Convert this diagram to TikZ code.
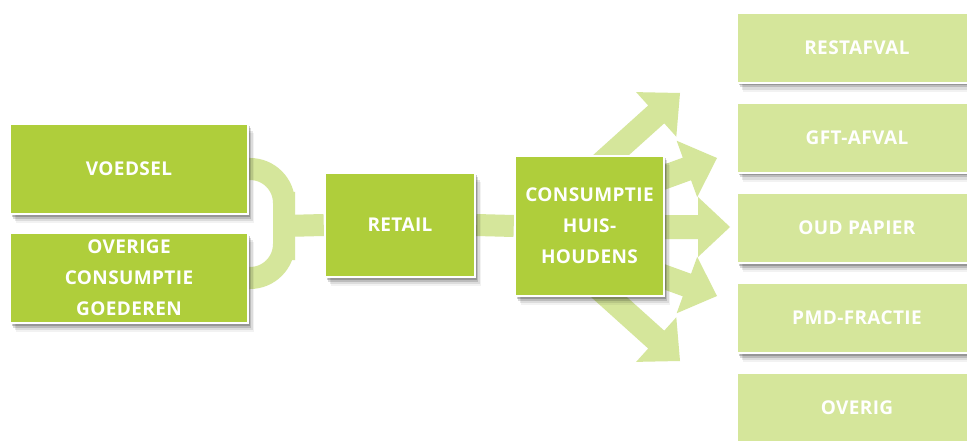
\documentclass[tikz,border=0pt]{standalone}
\usepackage{fontspec}
\setmainfont{Open Sans}
\newfontfamily\boxfont[LetterSpace=2]{Open Sans}
\usetikzlibrary{shadows,calc}
\definecolor{dgreen}{HTML}{AFCE3B}
\definecolor{lgreen}{HTML}{D5E69B}
\pgfdeclarelayer{bg}
\pgfsetlayers{bg,main}
\tikzset{
  sh/.style={drop shadow={shadow xshift=1.5pt,shadow yshift=-2.5pt,opacity=.2,fill=black},
             drop shadow={shadow xshift=3pt,shadow yshift=-4.5pt,opacity=.14,fill=black},
             drop shadow={shadow xshift=4.5pt,shadow yshift=-7pt,opacity=.09,fill=black},
             drop shadow={shadow xshift=6pt,shadow yshift=-9pt,opacity=.05,fill=black}},
  dbox/.style={sh, rectangle, fill=dgreen, draw=white, line width=2.5pt, text=white,
               font=\boxfont\bfseries\fontsize{19}{31}\selectfont, align=center, inner sep=0pt},
  lbox/.style={dbox, fill=lgreen},
  band/.style={draw=lgreen, line width=22pt},
  fatarrow/.style={fill=lgreen},
}
\newcommand{\fatarr}[3]{% tip, angle, length
  \begin{scope}[shift={(#1)}, rotate=#2]
    \fill[fatarrow] (0,0) -- (-32,30) -- (-32,12) -- (-#3,12) -- (-#3,-12) -- (-32,-12) -- (-32,-30) -- cycle;
  \end{scope}}
\begin{document}
\begin{tikzpicture}[x=1pt,y=-1pt]
\useasboundingbox (0,0) rectangle (967,441);

\node[dbox, minimum width=238pt, minimum height=90pt] (voed) at (129,169) {VOEDSEL};
\node[dbox, minimum width=238pt, minimum height=90pt] (over) at (129,278) {OVERIGE\\CONSUMPTIE\\GOEDEREN};
\node[dbox, minimum width=150pt, minimum height=104pt] (ret) at (400,225) {RETAIL};
\node[dbox, minimum width=149pt, minimum height=140pt] (cons) at (589.5,226) {CONSUMPTIE\\HUIS-\\HOUDENS};

\node[lbox, minimum width=240pt, minimum height=70pt] (r1) at (857,48) {RESTAFVAL};
\node[lbox, minimum width=240pt, minimum height=70pt] (r2) at (857,138) {GFT-AFVAL};
\node[lbox, minimum width=240pt, minimum height=70pt] (r3) at (857,228) {OUD PAPIER};
\node[lbox, minimum width=240pt, minimum height=70pt] (r4) at (857,318) {PMD-FRACTIE};
\node[lbox, minimum width=240pt, minimum height=70pt] (r5) at (857,408) {OVERIG};

\coordinate (j) at (284,226);
\coordinate (t1) at (680,93);
\coordinate (t2) at (717,158);
\coordinate (t3) at (730,227);
\coordinate (t4) at (717,296);
\coordinate (t5) at (680,361);

\begin{pgfonlayer}{bg}
  \fill[white] (0,0) rectangle (967,441);
  \draw[band, rounded corners=34pt] (voed.east) -| (j) |- (over.east);
  \draw[band] (j) -- (ret.west);
  \draw[band] (ret.east) -- (cons.west);
  \fatarr{t1}{42}{120}
  \fatarr{t2}{20}{100}
  \fatarr{t3}{0}{110}
  \fatarr{t4}{-20}{100}
  \fatarr{t5}{-42}{120}
\end{pgfonlayer}
\end{tikzpicture}
\end{document}
